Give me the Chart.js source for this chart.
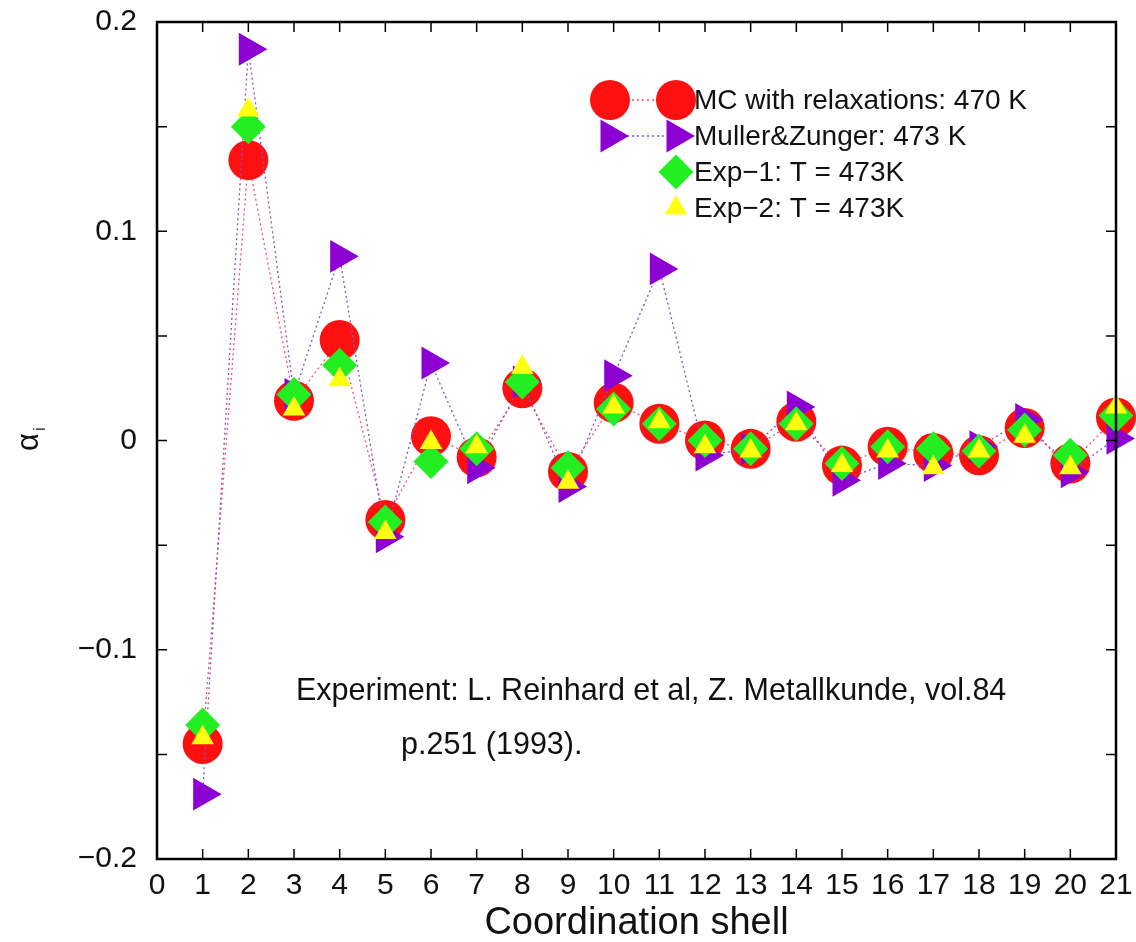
<!DOCTYPE html>
<html>
<head>
<meta charset="utf-8">
<script src="https://cdn.jsdelivr.net/npm/chart.js@4/dist/chart.umd.min.js"></script>
<style>
  html, body { margin: 0; padding: 0; background: #fff; }
  #wrap { width: 1136px; height: 942px; }
</style>
</head>
<body>
<div id="wrap"><canvas id="chart" width="1136" height="942"></canvas></div>
<script>
const shells = [1, 2, 3, 4, 5, 6, 7, 8, 9, 10, 11, 12, 13, 14, 15, 16, 17, 18, 19, 20, 21];
const mcRelax = [-0.145, 0.134, 0.019, 0.048, -0.038, 0.002, -0.008, 0.025, -0.015, 0.018, 0.008,
  0.000, -0.004, 0.009, -0.012, -0.003, -0.006, -0.007, 0.006, -0.011, 0.011];
const mullerZunger = [-0.169, 0.187, 0.022, 0.088, -0.046, 0.037, -0.013, 0.028, -0.022, 0.031, 0.082,
  -0.007, -0.004, 0.016, -0.019, -0.011, -0.012, -0.003, 0.010, -0.015, 0.001];
const exp1 = [-0.136, 0.150, 0.022, 0.036, -0.039, -0.010, -0.004, 0.028, -0.013, 0.015, 0.008,
  0.000, -0.004, 0.008, -0.011, -0.003, -0.004, -0.005, 0.005, -0.007, 0.012];
const exp2 = [-0.142, 0.158, 0.015, 0.029, -0.044, -0.001, -0.003, 0.035, -0.020, 0.016, 0.009,
  -0.003, -0.005, 0.008, -0.012, -0.005, -0.013, -0.005, 0.002, -0.013, 0.016];

const seriesNames = ["MC with relaxations: 470 K", "Muller&Zunger: 473 K", "Exp\u22121: T = 473K", "Exp\u22122: T = 473K"];
const noteLines = ["Experiment: L. Reinhard et al, Z. Metallkunde, vol.84", "p.251 (1993)."];
const xTitle = "Coordination shell";

const FONT = "'Liberation Sans', Arial, Helvetica, sans-serif";
const RED = "#ff1010", PURPLE = "#8c00d2", GREEN = "#22ee22", YELLOW = "#ffff10";

const pts = (vals) => shells.map((s, i) => ({ x: s, y: vals[i] }));

const styles = [
  { pointStyle: "circle", radius: 20, rotation: 0, color: RED, line: "#ff4a6a" },
  { pointStyle: "triangle", radius: 19, rotation: 90, color: PURPLE, line: "#8050d0" },
  { pointStyle: "rectRot", radius: 17.5, rotation: 0, color: GREEN, line: null },
  { pointStyle: "triangle", radius: 13, rotation: 0, color: YELLOW, line: null }
];

function dataset(label, vals, st, order) {
  return {
    label,
    data: pts(vals),
    showLine: !!st.line,
    borderColor: st.line || st.color,
    borderWidth: 1.3,
    borderDash: [2, 3],
    pointStyle: st.pointStyle,
    pointRadius: st.radius,
    pointHoverRadius: st.radius,
    pointRotation: st.rotation,
    pointBackgroundColor: st.color,
    pointBorderWidth: 0,
    clip: false,
    order
  };
}

const frame = {
  id: "frame",
  afterDatasetsDraw(chart) {
    const { ctx, chartArea: a, scales } = chart;
    ctx.save();
    ctx.strokeStyle = "#000";
    ctx.lineWidth = 1.5;
    const t = 10;
    scales.y.ticks.forEach((tk) => {
      const py = scales.y.getPixelForValue(tk.value);
      ctx.beginPath();
      ctx.moveTo(a.left, py); ctx.lineTo(a.left + t, py);
      ctx.moveTo(a.right, py); ctx.lineTo(a.right - t, py);
      ctx.stroke();
    });
    scales.x.ticks.forEach((tk) => {
      const px = scales.x.getPixelForValue(tk.value);
      ctx.beginPath();
      ctx.moveTo(px, a.bottom); ctx.lineTo(px, a.bottom - t);
      ctx.moveTo(px, a.top); ctx.lineTo(px, a.top + t);
      ctx.stroke();
    });
    ctx.lineWidth = 2.5;
    ctx.strokeRect(a.left, a.top, a.right - a.left, a.bottom - a.top);
    ctx.restore();
  },
  afterDraw(chart) {
    const { ctx } = chart;
    ctx.save();
    // y axis title: alpha with subscript i, rotated
    ctx.fillStyle = "#111";
    ctx.translate(29, 442);
    ctx.rotate(-Math.PI / 2);
    ctx.textBaseline = "middle";
    ctx.textAlign = "center";
    ctx.font = `31px ${FONT}`;
    ctx.fillText("\u03b1", 0, 0);
    ctx.font = `17px ${FONT}`;
    ctx.fillText("i", 13, 11);
    ctx.restore();

    // annotation
    ctx.save();
    ctx.fillStyle = "#111";
    ctx.font = `30.5px ${FONT}`;
    ctx.textBaseline = "alphabetic";
    ctx.textAlign = "left";
    ctx.fillText(noteLines[0], 296, 700);
    ctx.fillText(noteLines[1], 401, 754);
    ctx.restore();

    // legend
    const rows = [100, 136, 172, 208];
    ctx.save();
    chart.data.datasets.forEach((ds, i) => {
      const st = styles[i];
      const y = rows[i];
      const opts = { pointStyle: st.pointStyle, radius: st.radius, rotation: st.rotation, borderWidth: 0 };
      ctx.fillStyle = st.color;
      ctx.strokeStyle = st.color;
      if (st.line) {
        ctx.save();
        ctx.strokeStyle = st.line;
        ctx.lineWidth = 1.3;
        ctx.setLineDash([2, 3]);
        ctx.beginPath(); ctx.moveTo(612, y); ctx.lineTo(672, y); ctx.stroke();
        ctx.restore();
        Chart.helpers.drawPoint(ctx, opts, 610, y);
      }
      Chart.helpers.drawPoint(ctx, opts, 676, y);
      ctx.fillStyle = "#111";
      ctx.font = `28px ${FONT}`;
      ctx.textBaseline = "middle";
      ctx.textAlign = "left";
      ctx.fillText(ds.label, 694, y + 1);
    });
    ctx.restore();
  }
};

const fmtY = (v) => {
  const k = Math.round(v * 10);
  if (Math.abs(v * 10 - k) > 1e-6) return "";
  if (k === 0) return "0";
  return (k < 0 ? "\u2212" : "") + (Math.abs(k) / 10).toFixed(1);
};

new Chart(document.getElementById("chart"), {
  type: "line",
  data: {
    datasets: [
      dataset(seriesNames[0], mcRelax, styles[0], 4),
      dataset(seriesNames[1], mullerZunger, styles[1], 3),
      dataset(seriesNames[2], exp1, styles[2], 2),
      dataset(seriesNames[3], exp2, styles[3], 1)
    ]
  },
  options: {
    responsive: false,
    animation: false,
    devicePixelRatio: 1,
    layout: { padding: { left: 0, top: 22, right: 20, bottom: 0 } },
    plugins: { legend: { display: false }, tooltip: { enabled: false } },
    scales: {
      x: {
        type: "linear",
        min: 0,
        max: 21,
        grid: { display: false, drawTicks: false },
        border: { display: false },
        ticks: {
          stepSize: 1, autoSkip: false, maxRotation: 0, padding: 9,
          color: "#111", font: { family: FONT, size: 30 }
        },
        title: { display: true, text: xTitle, color: "#111", font: { family: FONT, size: 38 }, padding: { top: 0, bottom: -4 } },
        afterFit: (s) => { s.height = 83; s.paddingLeft = 0; s.paddingRight = 0; }
      },
      y: {
        min: -0.2,
        max: 0.2,
        grid: { display: false, drawTicks: false },
        border: { display: false },
        ticks: {
          stepSize: 0.05, autoSkip: false, padding: 20,
          color: "#111", font: { family: FONT, size: 30 },
          callback: fmtY
        },
        afterFit: (s) => { s.width = 157; s.paddingTop = 0; s.paddingBottom = 0; }
      }
    }
  },
  plugins: [frame]
});
</script>
</body>
</html>
